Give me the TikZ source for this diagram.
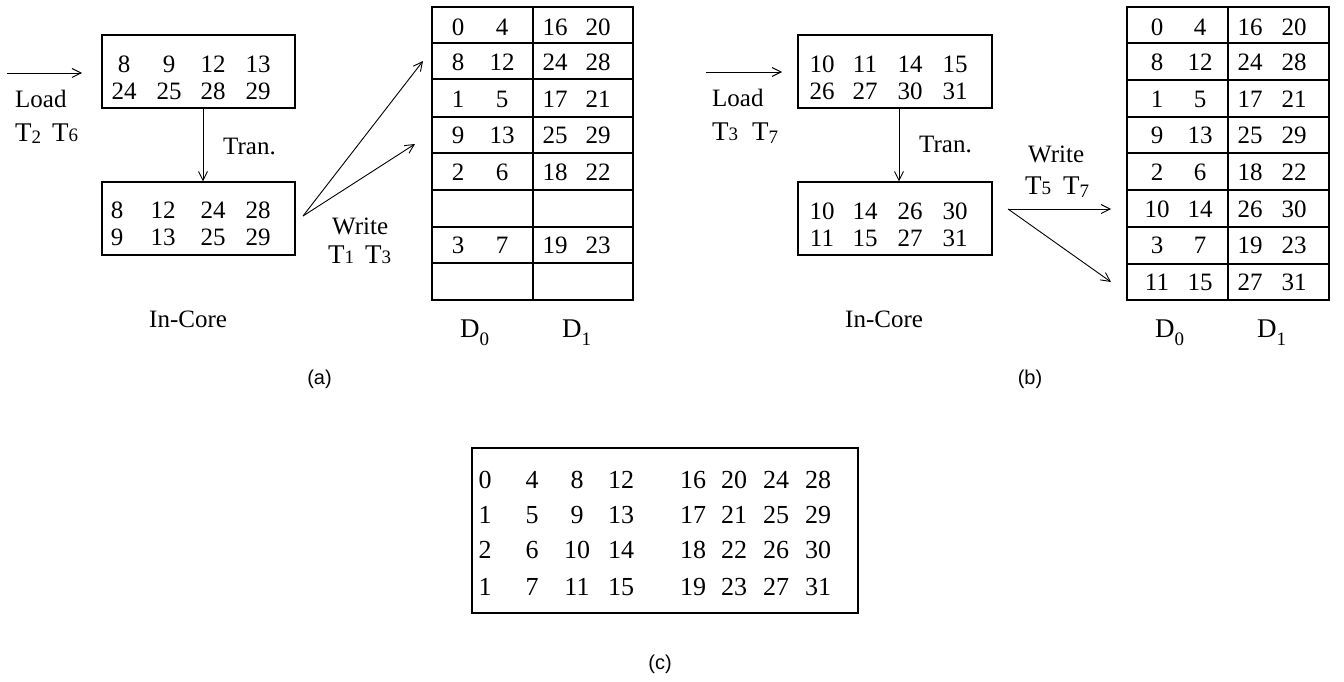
\documentclass[tikz,border=0pt]{standalone}
\usepackage{fontspec}
\setmainfont{Liberation Serif}
\newfontfamily\capfont{Liberation Sans}
\usetikzlibrary{arrows.meta}
% T with subscript: #1 = lowering, #2 = digit
\newcommand{\Tsub}[2]{{\fontsize{27}{27}\selectfont T}\raisebox{-#1pt}{\fontsize{19}{19}\selectfont #2}}
\newcommand{\Dsub}[1]{D\raisebox{-8pt}{\fontsize{19}{19}\selectfont #1}}
\begin{document}
\begin{tikzpicture}[x=1pt,y=-1pt,
  box/.style={draw, line width=1.2pt, inner sep=0pt, rectangle},
  num/.style={font=\fontsize{25}{25}\selectfont, inner sep=0pt, anchor=center},
  cnum/.style={font=\fontsize{26}{26}\selectfont, inner sep=0pt, anchor=center},
  lbl/.style={font=\fontsize{25}{25}\selectfont, inner sep=0pt, anchor=base west},
  dlbl/.style={font=\fontsize{27}{27}\selectfont, inner sep=0pt, anchor=base west},
  captext/.style={font=\capfont\fontsize{20}{20}\selectfont, inner sep=0pt},
  arr/.style={line width=0.9pt, -{Straight Barb[length=9pt,width=9pt]}},
  gridline/.style={line width=1.2pt}
]
\useasboundingbox (0,0) rectangle (1344,682);

%%%%%%%%%%%%%%%% (a) %%%%%%%%%%%%%%%%
\node[box, minimum width=193pt, minimum height=73pt] (atop) at (198.5,71.5) {};
\node[box, minimum width=193pt, minimum height=73pt] (abot) at (198.5,218.5) {};
\foreach \t/\x [count=\i] in {8/124,9/169,12/213,13/258}
  \node[num] (at1-\i) at (\x,64) {\t};
\foreach \t/\x [count=\i] in {24/124,25/169,28/213,29/258}
  \node[num] (at2-\i) at (\x,91) {\t};
\foreach \t/\x [count=\i] in {8/117,12/163,24/213,28/258}
  \node[num] (ab1-\i) at (\x,210) {\t};
\foreach \t/\x [count=\i] in {9/117,13/163,25/213,29/258}
  \node[num] (ab2-\i) at (\x,237) {\t};

\coordinate (aLs) at (7,73);
\coordinate (aLe) at (82,73);
\draw[arr] (aLs) -- (aLe);
\node[lbl] (aload) at (15,108) {Load};
\node[lbl] (aT) at (15,142) {\Tsub{2}{2}\hspace{11pt}\Tsub{0}{6}};

\draw[arr] ([xshift=4.5pt]atop.south) -- ([xshift=4.5pt]abot.north);
\node[lbl] (atran) at (223,154) {Tran.};

\coordinate (aWs) at (303,216);
\coordinate (aW1) at (423,61);
\coordinate (aW2) at (415,144);
\draw[arr] (aWs) -- (aW1);
\draw[arr] (aWs) -- (aW2);
\node[lbl] (awrite) at (332,234) {Write};
\node[lbl] (aWT) at (328,263) {\Tsub{0}{1}\hspace{11pt}\Tsub{0}{3}};
\node[lbl] (acore) at (149,327) {In-Core};

% disk table (a)
\draw[gridline] (432,7) rectangle (633,300);
\draw[gridline] (533,7) -- (533,300);
\foreach \y in {43,79,117,153,190,227,263}
  \draw[gridline] (432,\y) -- (633,\y);
\foreach \r/\a/\b/\c/\d/\y in {1/0/4/16/20/27,2/8/12/24/28/62,3/1/5/17/21/99,4/9/13/25/29/135,5/2/6/18/22/172,7/3/7/19/23/245}{
  \node[num] (ad\r-1) at (458,\y) {\a};
  \node[num] (ad\r-2) at (502,\y) {\b};
  \node[num] (ad\r-3) at (555,\y) {\c};
  \node[num] (ad\r-4) at (598,\y) {\d};
}
\node[dlbl] (aD0) at (460,337) {\Dsub{0}};
\node[dlbl] (aD1) at (562,337) {\Dsub{1}};
\node[captext] (capa) at (319.5,379) {(a)};

%%%%%%%%%%%%%%%% (b) %%%%%%%%%%%%%%%%
\node[box, minimum width=194pt, minimum height=73pt] (btop) at (895,71.5) {};
\node[box, minimum width=194pt, minimum height=73pt] (bbot) at (895,218.5) {};
\foreach \t/\x [count=\i] in {10/822,11/865,14/910,15/955}
  \node[num] (bt1-\i) at (\x,64) {\t};
\foreach \t/\x [count=\i] in {26/822,27/865,30/910,31/955}
  \node[num] (bt2-\i) at (\x,91) {\t};
\foreach \t/\x [count=\i] in {10/822,14/865,26/910,30/955}
  \node[num] (bb1-\i) at (\x,211) {\t};
\foreach \t/\x [count=\i] in {11/822,15/865,27/910,31/955}
  \node[num] (bb2-\i) at (\x,238) {\t};

\coordinate (bLs) at (706,72);
\coordinate (bLe) at (782,72);
\draw[arr] (bLs) -- (bLe);
\node[lbl] (bload) at (712,107) {Load};
\node[lbl] (bT) at (712,141) {\Tsub{0}{3}\hspace{14pt}\Tsub{3}{7}};

\draw[arr] ([xshift=4pt]btop.south) -- ([xshift=4pt]bbot.north);
\node[lbl] (btran) at (919,153) {Tran.};

\coordinate (bWs) at (1008,209);
\coordinate (bW1) at (1111,209);
\coordinate (bW2) at (1111,282);
\draw[arr] (bWs) -- (bW1);
\draw[arr] (bWs) -- (bW2);
\node[lbl] (bwrite) at (1028,162) {Write};
\node[lbl] (bWT) at (1025,194) {\Tsub{0}{5}\hspace{12pt}\Tsub{3}{7}};
\node[lbl] (bcore) at (845,327) {In-Core};

% disk table (b)
\draw[gridline] (1127,7) rectangle (1329,300);
\draw[gridline] (1228,7) -- (1228,300);
\foreach \y in {43,80,117,153,190,227,264}
  \draw[gridline] (1127,\y) -- (1329,\y);
\foreach \r/\a/\b/\c/\d/\y in {1/0/4/16/20/27,2/8/12/24/28/62,3/1/5/17/21/99,4/9/13/25/29/135,5/2/6/18/22/172,6/10/14/26/30/209,7/3/7/19/23/245,8/11/15/27/31/282}{
  \node[num] (bd\r-1) at (1157,\y) {\a};
  \node[num] (bd\r-2) at (1200,\y) {\b};
  \node[num] (bd\r-3) at (1250,\y) {\c};
  \node[num] (bd\r-4) at (1294,\y) {\d};
}
\node[dlbl] (bD0) at (1155,337) {\Dsub{0}};
\node[dlbl] (bD1) at (1257,337) {\Dsub{1}};
\node[captext] (capb) at (1030,379) {(b)};

%%%%%%%%%%%%%%%% (c) %%%%%%%%%%%%%%%%
\node[box, minimum width=386pt, minimum height=165pt] (ctab) at (665,530.5) {};
\foreach \a/\b/\c/\d/\e/\f/\g/\h/\y [count=\r] in {0/4/8/12/16/20/24/28/480,1/5/9/13/17/21/25/29/515,2/6/10/14/18/22/26/30/550,1/7/11/15/19/23/27/31/587}{
  \node[cnum] (c\r-1) at (485,\y) {\a};
  \node[cnum] (c\r-2) at (532,\y) {\b};
  \node[cnum] (c\r-3) at (577,\y) {\c};
  \node[cnum] (c\r-4) at (621,\y) {\d};
  \node[cnum] (c\r-5) at (693,\y) {\e};
  \node[cnum] (c\r-6) at (734,\y) {\f};
  \node[cnum] (c\r-7) at (776,\y) {\g};
  \node[cnum] (c\r-8) at (818,\y) {\h};
}
\node[captext] (capc) at (660,664) {(c)};
\end{tikzpicture}
\end{document}
